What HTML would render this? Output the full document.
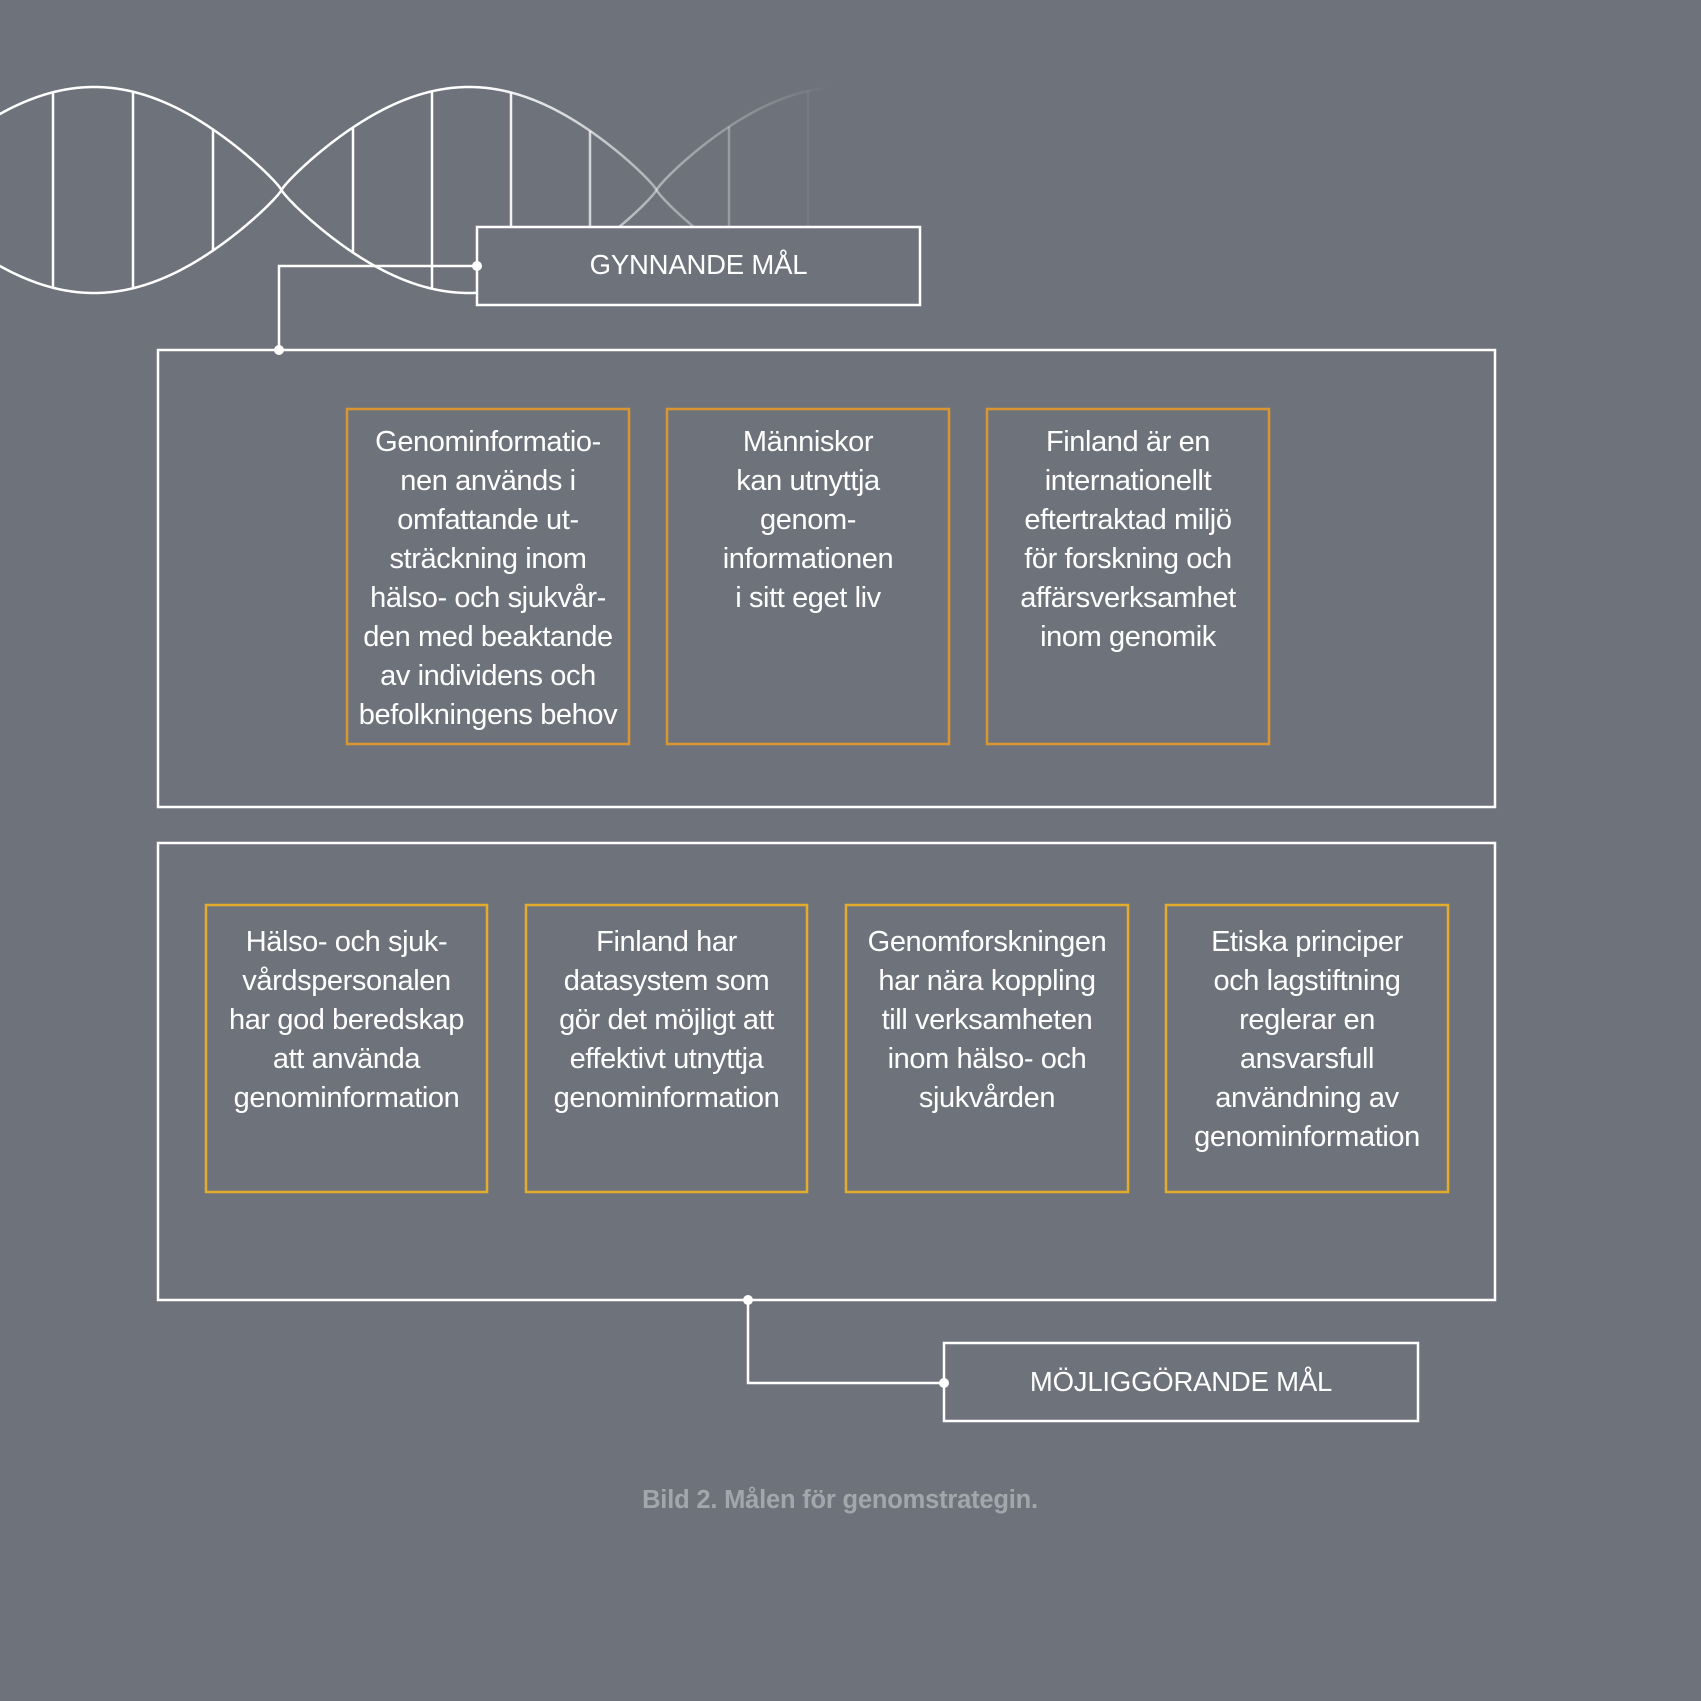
<!DOCTYPE html>
<html><head><meta charset="utf-8"><style>
html,body{margin:0;padding:0;background:#6e737b;}
#c{position:relative;width:1701px;height:1701px;overflow:hidden;background:#6e737b;font-family:"Liberation Sans",sans-serif;}
svg{position:absolute;left:0;top:0;}
.t{position:absolute;color:#fff;text-align:center;font-size:29px;line-height:39px;letter-spacing:-0.4px;}
.lbl{position:absolute;color:#fff;text-align:center;font-size:27.5px;letter-spacing:-0.2px;}
</style></head><body><div id="c">
<svg width="1701" height="1701" viewBox="0 0 1701 1701">
<defs>
<linearGradient id="fade" gradientUnits="userSpaceOnUse" x1="480" y1="0" x2="830" y2="0">
<stop offset="0" stop-color="#fff" stop-opacity="1"/>
<stop offset="0.5" stop-color="#fff" stop-opacity="0.45"/>
<stop offset="1" stop-color="#fff" stop-opacity="0"/>
</linearGradient>
</defs>
<g id="helix" fill="none" stroke="url(#fade)" stroke-width="2.5"></g>
<g fill="none" stroke="#fff" stroke-width="2.5">
<rect x="158" y="350" width="1337" height="457"/>
<rect x="158" y="843" width="1337" height="457"/>
<rect x="477" y="227" width="443" height="78" fill="#6e737b"/>
<rect x="944" y="1343" width="474" height="78"/>
<polyline points="477,266 279,266 279,350"/>
<polyline points="748,1300 748,1383 944,1383"/>
</g>
<g fill="#fff">
<circle cx="477" cy="266" r="5"/><circle cx="279" cy="350" r="5"/>
<circle cx="748" cy="1300" r="5"/><circle cx="944" cy="1383" r="5"/>
</g>
<g fill="none" stroke="#d99530" stroke-width="2.5">
<rect x="347" y="409" width="282" height="335"/>
<rect x="667" y="409" width="282" height="335"/>
<rect x="987" y="409" width="282" height="335"/>
</g>
<g fill="none" stroke="#e3ad2c" stroke-width="2.5">
<rect x="206" y="905" width="281" height="287"/>
<rect x="526" y="905" width="281" height="287"/>
<rect x="846" y="905" width="282" height="287"/>
<rect x="1166" y="905" width="282" height="287"/>
</g>
</svg>
<div class="lbl" style="left:477px;top:249px;width:443px;">GYNNANDE MÅL</div>
<div class="lbl" style="left:944px;top:1366px;width:474px;">MÖJLIGGÖRANDE MÅL</div>
<div class="t" style="left:337px;top:423px;width:302px;">Genominformatio-<br>nen används i<br>omfattande ut-<br>sträckning inom<br>hälso- och sjukvår-<br>den med beaktande<br>av individens och<br>befolkningens behov</div>
<div class="t" style="left:657px;top:423px;width:302px;">Människor<br>kan utnyttja<br>genom-<br>informationen<br>i sitt eget liv</div>
<div class="t" style="left:977px;top:423px;width:302px;">Finland är en<br>internationellt<br>eftertraktad miljö<br>för forskning och<br>affärsverksamhet<br>inom genomik</div>
<div class="t" style="left:196px;top:923px;width:301px;">Hälso- och sjuk-<br>vårdspersonalen<br>har god beredskap<br>att använda<br>genominformation</div>
<div class="t" style="left:516px;top:923px;width:301px;">Finland har<br>datasystem som<br>gör det möjligt att<br>effektivt utnyttja<br>genominformation</div>
<div class="t" style="left:836px;top:923px;width:302px;">Genomforskningen<br>har nära koppling<br>till verksamheten<br>inom hälso- och<br>sjukvården</div>
<div class="t" style="left:1156px;top:923px;width:302px;">Etiska principer<br>och lagstiftning<br>reglerar en<br>ansvarsfull<br>användning av<br>genominformation</div>
<div style="position:absolute;left:440px;top:1486px;width:800px;text-align:center;color:#a3a6ab;font-weight:bold;font-size:25.5px;letter-spacing:-0.2px;">Bild 2. Målen för genomstrategin.</div>
</div>
<script>
(function(){
var g=document.getElementById('helix'),ns='http://www.w3.org/2000/svg';
var cy=190,A=103,x0=94,P=750;
function y(x,s){var c=Math.cos(2*Math.PI*(x-x0)/P);var v=(c<0?-1:1)*Math.pow(Math.abs(c),0.87);return cy - s*A*v;}
[1,-1].forEach(function(s){
 var d='';for(var x=-10;x<=830;x+=1){d+=(x==-10?'M':'L')+x+','+y(x,s).toFixed(2);}
 var p=document.createElementNS(ns,'path');p.setAttribute('d',d);g.appendChild(p);
});
[53,133,213,353,432,511,590,729,808].forEach(function(x){
 var l=document.createElementNS(ns,'line');
 var a=y(x,1),b=y(x,-1);
 l.setAttribute('x1',x);l.setAttribute('x2',x);l.setAttribute('y1',Math.min(a,b));l.setAttribute('y2',Math.max(a,b));
 if(x>=480){var op=Math.max(0,1-(x-480)/350);l.setAttribute('stroke','#fff');l.setAttribute('stroke-opacity',op.toFixed(2));}
 else l.setAttribute('stroke','#fff');
 g.appendChild(l);
});
})();
</script>
</body></html>
